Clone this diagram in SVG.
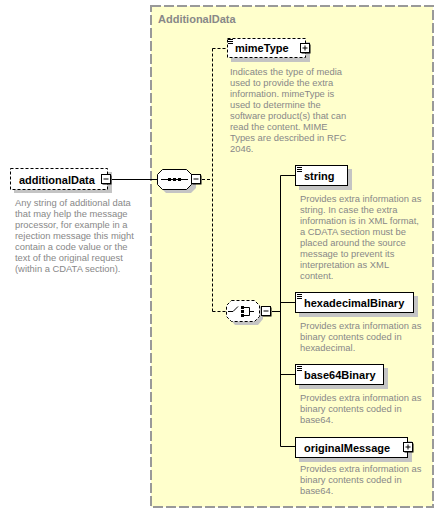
<svg xmlns="http://www.w3.org/2000/svg" width="444" height="513" viewBox="0 0 444 513">
<style>
.box{fill:#fff;stroke:#000;stroke-width:1}
.opt{fill:#fff;stroke:#000;stroke-width:1;stroke-dasharray:3 2}
.shd{fill:#c4c4c4}
.lbl{font-family:"Liberation Sans",Arial,sans-serif;font-weight:bold;font-size:11px;fill:#000}
.doc{font-family:"Liberation Sans",Arial,sans-serif;font-size:9.4px;fill:#888}
.ttl{font-family:"Liberation Sans",Arial,sans-serif;font-weight:bold;font-size:11px;fill:#888}
.ln{fill:none;stroke:#000;stroke-width:1}
.dln{fill:none;stroke:#000;stroke-width:1;stroke-dasharray:3 2}
.btn{fill:#fff;stroke:#000;stroke-width:1}
</style>
<defs>
<g id="minus"><rect x="1.5" y="1.5" width="9" height="9" fill="#000"/><rect class="btn" x="0.5" y="0.5" width="9" height="9"/><path d="M2.5 5H7.5" stroke="#000"/></g>
<g id="plus"><rect x="1.5" y="1.5" width="9" height="9" fill="#000"/><rect class="btn" x="0.5" y="0.5" width="9" height="9"/><path d="M2.5 5H7.5M5 2.5V7.5" stroke="#000"/></g>
<g id="doci"><path d="M0 0.5H5M0 2.5H5M0 4.5H5" stroke="#000"/></g>
</defs>
<rect width="444" height="513" fill="#fff"/>
<g id="AdditionalData">
<rect x="151" y="6" width="282" height="501" fill="#ffffcc" stroke="#999" stroke-width="2" stroke-dasharray="10 3"/>
<text class="ttl" x="158" y="23">AdditionalData</text>
</g>
<g id="connectors">
<path class="ln" d="M111 179.5H157"/>
<path class="dln" d="M202 179.5H212.5M212.5 48.5V311.5M212.5 48.5H227M212.5 311.5H226"/>
<path class="ln" d="M272 311.5H280.5M280.5 175.5V446.5M280.5 175.5H295M280.5 302.5H295M280.5 374.5H295M280.5 446.5H295"/>
</g>
<g id="additionalData">
<rect class="shd" x="14" y="172" width="98" height="21"/>
<rect class="opt" x="10.5" y="168.5" width="97" height="21"/>
<text class="lbl" x="19" y="184">additionalData</text>
<use href="#minus" x="101" y="174"/>
<text class="doc" x="15" y="206">Any string of additional data</text>
<text class="doc" x="15" y="217">that may help the message</text>
<text class="doc" x="15" y="228">processor, for example in a</text>
<text class="doc" x="15" y="239">rejection message this might</text>
<text class="doc" x="15" y="250">contain a code value or the</text>
<text class="doc" x="15" y="261">text of the original request</text>
<text class="doc" x="15" y="272">(within a CDATA section).</text>
</g>
<g id="sequence">
<path class="shd" d="M166 173H191L196 178V188L191 193H166L161 188V178Z"/>
<path d="M162.5 169.5H186.5L191.5 174.5V184.5L186.5 189.5H162.5L157.5 184.5V174.5Z" fill="#fff" stroke="#000"/>
<path d="M161 179.5H188" stroke="#000"/>
<rect x="168" y="178" width="3" height="3"/><rect x="173" y="178" width="3" height="3"/><rect x="178" y="178" width="3" height="3"/>
<use href="#minus" x="191" y="174"/>
</g>
<g id="choice">
<path class="shd" d="M235 304H258L263 309V319L258 325H235L230 319V309Z"/>
<path d="M231.5 300.5H254.5L259.5 305.5V316.5L254.5 321.5H231.5L226.5 316.5V305.5Z" fill="#fff" stroke="#000" stroke-dasharray="3 2"/>
<path d="M228 311.5H233L238 306.5M244 307.5H249.5V315.5H244M249.5 311.5H254" fill="none" stroke="#000"/>
<rect x="241" y="306" width="3" height="3"/><rect x="241" y="310" width="3" height="3"/><rect x="241" y="314" width="3" height="3"/>
<use href="#minus" x="261" y="306"/>
</g>
<g id="mimeType">
<rect class="shd" x="231" y="42" width="79" height="20"/>
<rect class="opt" x="227.5" y="38.5" width="78" height="19"/>
<use href="#doci" x="228" y="39"/>
<text class="lbl" x="235" y="52">mimeType</text>
<use href="#plus" x="300" y="43"/>
<text class="doc" x="230" y="75">Indicates the type of media</text>
<text class="doc" x="230" y="86">used to provide the extra</text>
<text class="doc" x="230" y="97">information. mimeType is</text>
<text class="doc" x="230" y="108">used to determine the</text>
<text class="doc" x="230" y="119">software product(s) that can</text>
<text class="doc" x="230" y="130">read the content. MIME</text>
<text class="doc" x="230" y="141">Types are described in RFC</text>
<text class="doc" x="230" y="152">2046.</text>
</g>
<g id="string">
<rect class="shd" x="299" y="169" width="53" height="21"/>
<rect class="box" x="295.5" y="165.5" width="52" height="20"/>
<use href="#doci" x="297" y="167"/>
<text class="lbl" x="304" y="180">string</text>
<text class="doc" x="300" y="201.5">Provides extra information as</text>
<text class="doc" x="300" y="212.5">string. In case the extra</text>
<text class="doc" x="300" y="223.5">information is in XML format,</text>
<text class="doc" x="300" y="234.5">a CDATA section must be</text>
<text class="doc" x="300" y="245.5">placed around the source</text>
<text class="doc" x="300" y="256.5">message to prevent its</text>
<text class="doc" x="300" y="267.5">interpretation as XML</text>
<text class="doc" x="300" y="278.5">content.</text>
</g>
<g id="hexadecimalBinary">
<rect class="shd" x="299" y="296" width="119" height="21"/>
<rect class="box" x="295.5" y="292.5" width="118" height="20"/>
<use href="#doci" x="297" y="294"/>
<text class="lbl" x="304" y="307">hexadecimalBinary</text>
<text class="doc" x="300" y="328.5">Provides extra information as</text>
<text class="doc" x="300" y="339.5">binary contents coded in</text>
<text class="doc" x="300" y="350.5">hexadecimal.</text>
</g>
<g id="base64Binary">
<rect class="shd" x="299" y="368" width="89" height="21"/>
<rect class="box" x="295.5" y="364.5" width="88" height="20"/>
<use href="#doci" x="297" y="366"/>
<text class="lbl" x="304" y="379">base64Binary</text>
<text class="doc" x="300" y="400.5">Provides extra information as</text>
<text class="doc" x="300" y="411.5">binary contents coded in</text>
<text class="doc" x="300" y="422.5">base64.</text>
</g>
<g id="originalMessage">
<rect class="shd" x="299" y="441" width="113" height="21"/>
<rect class="box" x="295.5" y="437.5" width="112" height="20"/>
<text class="lbl" x="304" y="452">originalMessage</text>
<use href="#plus" x="403" y="442"/>
<text class="doc" x="300" y="471.5">Provides extra information as</text>
<text class="doc" x="300" y="482.5">binary contents coded in</text>
<text class="doc" x="300" y="493.5">base64.</text>
</g>
</svg>
